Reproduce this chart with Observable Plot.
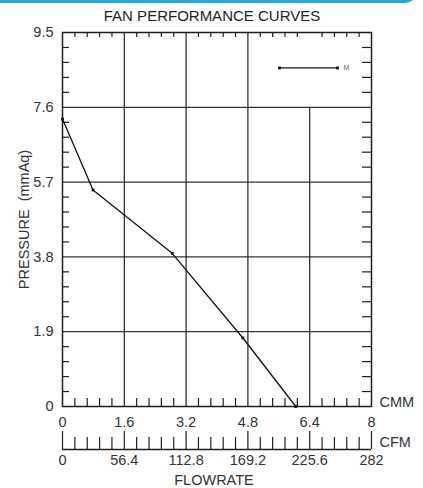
<!DOCTYPE html>
<html>
<head>
<meta charset="utf-8">
<script src="https://cdn.jsdelivr.net/npm/d3@7"></script>
<script src="https://cdn.jsdelivr.net/npm/@observablehq/plot@0.6"></script>
<style>
  body { margin: 0; background: #fff; overflow: hidden; }
  #wrap { position: relative; width: 423px; height: 488px; }
  #deco { position: absolute; left: -10px; top: -20px; width: 424px; height: 20px;
          border-bottom: 3px solid #27a6df; border-right: 3px solid #27a6df;
          border-bottom-right-radius: 12px; }
  #chart { position: absolute; left: 0; top: 0; }
</style>
</head>
<body>
<div id="wrap"><div id="deco"></div><div id="chart"></div></div>
<script>
// ---- data ----
const title = "FAN PERFORMANCE CURVES";
const yLabel = "PRESSURE  (mmAq)";
const xLabel = "FLOWRATE";
const flowCMM = [0, 0.79, 2.84, 4.67, 6.04];
const pressure = [7.3, 5.5, 3.89, 1.74, 0];
const cmmTicks = [0, 1.6, 3.2, 4.8, 6.4, 8];
const cfmTickLabels = ["0", "56.4", "112.8", "169.2", "225.6", "282"];
const pressureTicks = [0, 1.9, 3.8, 5.7, 7.6, 9.5];
const seriesName = "M";
const legendX = [5.62, 7.12];
const legendY = 8.6;

// ---- layout ----
const W = 423, H = 488;
const mL = 62, mR = 52, mT = 32, mB = 82;
const xMax = 8, yMax = 9.5;
const pxY = (H - mT - mB) / yMax;          // px per pressure unit
const pxX = (W - mL - mR) / xMax;          // px per CMM unit
const dy = px => px / pxY;                 // px -> y units
const dx = px => px / pxX;                 // px -> x units

const curve = flowCMM.map((x, i) => ({x, y: pressure[i]}));

// minor ticks
const xMinor = d3.range(0, 26).map(i => +(i * 0.32).toFixed(2)).filter(v => v > 0 && v < xMax && Math.abs(v / 1.6 - Math.round(v / 1.6)) > 1e-6);
const yMinor = d3.range(0, 26).map(i => +(i * 0.38).toFixed(2)).filter(v => v > 0 && v < yMax && Math.abs(v / 1.9 - Math.round(v / 1.9)) > 1e-6);

// CFM axis (below)
const cfmLineY = -dy(43);
const cfmMajorTop = -dy(25);
const cfmMinorTop = -dy(31);

const font = "'Liberation Sans', Arial, sans-serif";
const ink = "#1e1e1e";
const txt = "#333";
const fs = 14.5;

const plot = Plot.plot({
  width: W, height: H,
  marginLeft: mL, marginRight: mR, marginTop: mT, marginBottom: mB,
  style: {fontFamily: font, color: ink, background: "transparent", overflow: "visible"},
  x: {domain: [0, xMax], axis: null},
  y: {domain: [0, yMax], axis: null},
  marks: [
    // grid
    Plot.ruleY([1.9, 3.8, 5.7, 7.6], {stroke: "#333", strokeWidth: 1.2}),
    Plot.ruleX([1.6, 3.2, 4.8], {stroke: "#222", strokeWidth: 1.2}),
    Plot.ruleX([6.4], {y1: 0, y2: 7.6, stroke: "#222", strokeWidth: 1.2}),
    // inward minor ticks
    Plot.ruleX(xMinor, {y1: yMax, y2: yMax - dy(5), stroke: ink, strokeWidth: 1.2}),
    Plot.ruleX(xMinor, {y1: 0, y2: dy(8), stroke: ink, strokeWidth: 1.2}),
    Plot.ruleY(yMinor, {x1: 0, x2: dx(7), stroke: ink, strokeWidth: 1.2}),
    Plot.ruleY(yMinor, {x1: xMax, x2: xMax - dx(9), stroke: ink, strokeWidth: 1.2}),
    Plot.frame({stroke: ink, strokeWidth: 1.5}),
    // y tick labels
    Plot.text(pressureTicks, {x: 0, y: d => d, text: d => String(d), dx: -9, textAnchor: "end", fontSize: fs, fill: txt}),
    // CMM labels
    Plot.text(cmmTicks, {x: d => d, y: 0, text: d => String(d), dy: 16, fontSize: fs, fill: txt}),
    Plot.text(["CMM"], {x: xMax, y: 0, text: d => d, dx: 8, dy: -4, textAnchor: "start", fontSize: fs, fill: txt}),
    // CFM axis
    Plot.ruleY([cfmLineY], {x1: 0, x2: xMax, stroke: ink, strokeWidth: 1.3, clip: false}),
    Plot.ruleX(cmmTicks, {y1: cfmLineY, y2: cfmMajorTop, stroke: ink, strokeWidth: 1.2}),
    Plot.ruleX(xMinor, {y1: cfmLineY, y2: cfmMinorTop, stroke: ink, strokeWidth: 1.2}),
    Plot.text(cmmTicks, {x: d => d, y: cfmLineY, text: (d, i) => cfmTickLabels[i], dy: 11, fontSize: fs, fill: txt}),
    Plot.text(["CFM"], {x: xMax, y: cfmLineY, text: d => d, dx: 8, dy: -7, textAnchor: "start", fontSize: fs, fill: txt}),
    // axis titles
    Plot.text([xLabel], {frameAnchor: "bottom", lineAnchor: "middle", text: d => d, dy: 74, dx: -3, fontSize: fs, fill: txt}),
    Plot.text([yLabel], {x: -dx(38), y: yMax / 2, text: d => d, rotate: -90, fontSize: fs, fill: txt}),
    Plot.text([title], {frameAnchor: "top", lineAnchor: "middle", text: d => d, dy: -16, dx: -5, fontSize: 15, fill: "#222"}),
    // curve
    Plot.line(curve, {x: "x", y: "y", stroke: "#111", strokeWidth: 1.3}),
    Plot.dot(curve, {x: "x", y: "y", r: 1.6, fill: "#111", symbol: "square"}),
    // legend
    Plot.line(legendX.map(x => ({x, y: legendY})), {x: "x", y: "y", stroke: "#111", strokeWidth: 1.3}),
    Plot.dot(legendX.map(x => ({x, y: legendY})), {x: "x", y: "y", r: 1.6, fill: "#111", symbol: "square"}),
    Plot.text([seriesName], {x: legendX[1], y: legendY, text: d => d, dx: 6, textAnchor: "start", fontSize: 7, fill: "#666"})
  ]
});
document.getElementById("chart").appendChild(plot);
</script>
</body>
</html>
